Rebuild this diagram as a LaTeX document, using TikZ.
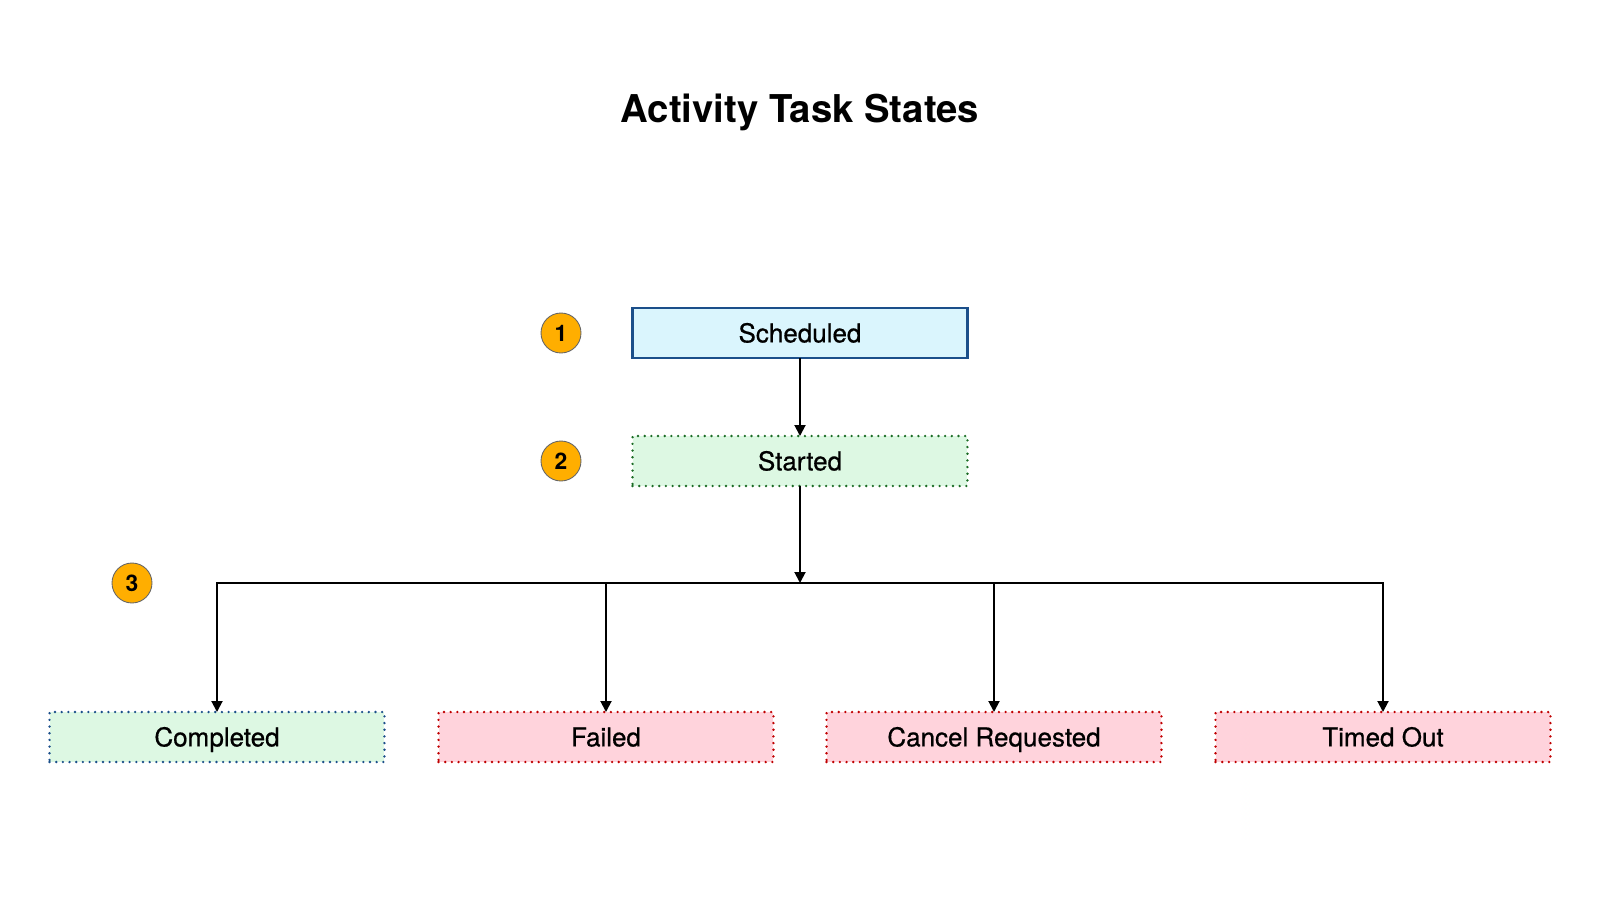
\documentclass[tikz,border=0pt]{standalone}
\usepackage{fontspec}
\setmainfont{TeX Gyre Heros}
\newfontfamily\statefont{TeX Gyre Heros}[FakeBold=0.6]
\usetikzlibrary{arrows.meta}
\definecolor{schedfill}{HTML}{DAF5FD}
\definecolor{schedline}{HTML}{1B4F8A}
\definecolor{greenfill}{HTML}{DDF8E3}
\definecolor{greenline}{HTML}{1A6B24}
\definecolor{pinkfill}{HTML}{FFD3DC}
\definecolor{redline}{HTML}{C00000}
\definecolor{badgefill}{HTML}{FFAE00}
\tikzset{
  statebox/.style={rectangle, minimum width=6.7cm, minimum height=1cm, inner sep=0pt, outer sep=0pt,
    text height=10.7pt, text depth=0pt, font=\statefont\fontsize{14.8}{17}\selectfont},
  dotline/.style={line width=1.5pt, line cap=round, dash pattern=on 0pt off 3.8pt},
  badge/.style={circle, fill=badgefill, draw=black!60, line width=0.5pt, minimum size=0.8cm, inner sep=0pt,
    font=\bfseries\fontsize{13}{15}\selectfont},
  arr/.style={line width=1.1pt, -{Triangle[length=0.22cm, width=0.22cm]}}
}
\begin{document}
\begin{tikzpicture}[x=0.02cm, y=-0.02cm]
  % page frame, 1600 x 900
  \useasboundingbox (0,0) rectangle (1600,900);
  % Title
  \node[font=\bfseries\fontsize{21.8}{26}\selectfont] (title) at (800,112) {Activity Task States};
  % Upper states
  \node[statebox, fill=schedfill, draw=schedline, line width=1.2pt] (sched) at (800,333) {Scheduled};
  \node[statebox, fill=greenfill, draw=greenline, dotline] (start) at (800,461) {Started};
  % Step markers
  \node[badge] (b1) at (561,333) {1};
  \node[badge] (b2) at (561,461) {2};
  \node[badge] (b3) at (132,583) {3};
  % Final states
  \node[statebox, fill=greenfill, draw=schedline, dotline] (done) at (217,737) {Completed};
  \node[statebox, fill=pinkfill, draw=redline, dotline] (fail) at (606,737) {Failed};
  \node[statebox, fill=pinkfill, draw=redline, dotline] (cancel) at (994,737) {Cancel Requested};
  \node[statebox, fill=pinkfill, draw=redline, dotline] (timeout) at (1383,737) {Timed Out};
  % Connectors
  \coordinate (split) at (800,583);
  \draw[arr] (sched) -- (start);
  \draw[arr] (start) -- (split);
  \draw[arr] (split) -| (done);
  \draw[arr] (split) -| (fail);
  \draw[arr] (split) -| (cancel);
  \draw[arr] (split) -| (timeout);
\end{tikzpicture}
\end{document}
